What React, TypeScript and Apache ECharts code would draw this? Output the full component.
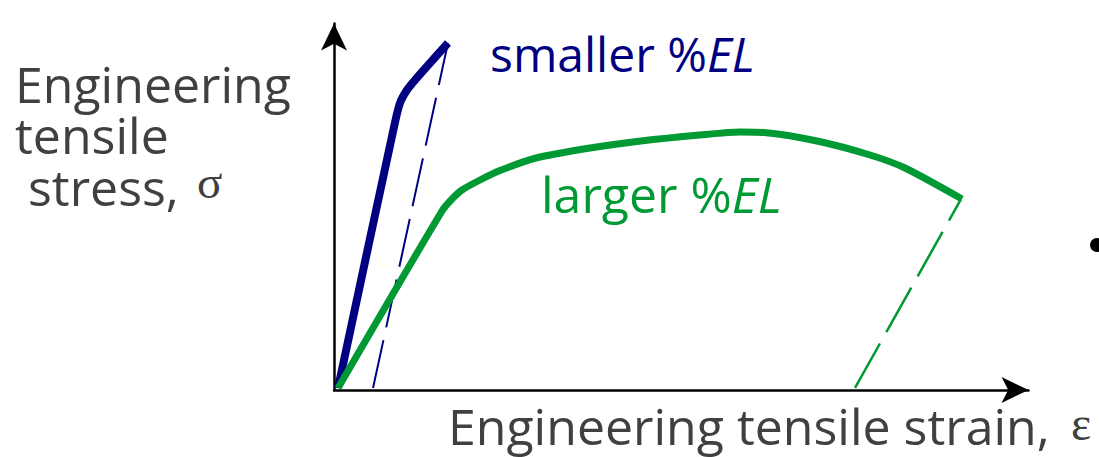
import React, { useEffect, useRef } from "react";
import * as echarts from "echarts";

// Curves in data units (x: strain 0..100, y: stress 0..100)
const smallerElCurve: [number, number][] = [
  [0.58, 0.55], [8.64, 71.76], [9.5, 78.31], [10.51, 81.85], [11.66, 84.58], [16.41, 94.68],
];
const smallerElUnload: [number, number][] = [
  [5.62, 0.55], [16.41, 94.68],
];
const largerElCurve: [number, number][] = [
  [0.58, 0.55], [15.55, 48.84], [16.99, 52.11], [18.43, 54.57], [21.02, 57.3], [23.9, 59.89],
  [29.09, 63.3], [36.86, 66.03], [44.2, 67.94], [52.7, 69.58], [58.46, 70.4], [61.91, 70.26],
  [69.55, 67.94], [77.18, 64.12], [82.22, 60.57], [90.42, 52.11],
];
const largerElUnload: [number, number][] = [
  [75.02, 0.55], [90.28, 52.11],
];

const yLabelLines = ["Engineering", "tensile", " stress,"];
const xLabelText = "Engineering tensile strain,";
const smallerLabel = ["smaller %", "EL"];
const largerLabel = ["larger %", "EL"];

const BLUE = "#000080";
const GREEN = "#009933";
const GRAY = "#404040";
const SANS = "'Open Sans', 'Noto Sans', sans-serif";
const SERIF = "'Liberation Serif', 'DejaVu Serif', serif";

export default function App() {
  const ref = useRef<HTMLDivElement>(null);
  useEffect(() => {
    if (!ref.current) return;
    const chart = echarts.init(ref.current, undefined, { renderer: "svg" });
    const axisCommon = {
      type: "value" as const,
      min: 0,
      max: 100,
      splitLine: { show: false },
      axisTick: { show: false },
      axisLabel: { show: false },
      axisLine: {
        show: true,
        symbol: ["none", "arrow"],
        symbolSize: [19.5, 27],
        lineStyle: { color: "#000", width: 2.5 },
      },
    };
    chart.setOption({
      animation: false,
      grid: { left: 334, top: 23.5, right: 70.5, bottom: 67, containLabel: false },
      xAxis: { ...axisCommon },
      yAxis: { ...axisCommon },
      series: [
        {
          type: "line", data: smallerElCurve, symbol: "none", smooth: 0.3,
          lineStyle: { color: BLUE, width: 8, cap: "butt", join: "round" }, z: 2,
        },
        {
          type: "line", data: smallerElUnload, symbol: "none",
          lineStyle: { color: BLUE, width: 2, type: [49, 13] }, z: 3,
        },
        {
          type: "line", data: largerElUnload, symbol: "none",
          lineStyle: { color: GREEN, width: 2.5, type: [51, 13] }, z: 3,
        },
        {
          type: "line", data: largerElCurve, symbol: "none", smooth: 0.25,
          lineStyle: { color: GREEN, width: 7, cap: "butt", join: "round" }, z: 4,
        },
      ],
      graphic: [
        {
          type: "text",
          x: 15,
          y: 83.6 - 25.75,
          style: {
            text: yLabelLines.join("\n"), font: `50px ${SANS}`, fill: GRAY, align: "left",
            verticalAlign: "top", lineHeight: 51.5,
          },
        },
        {
          type: "text", x: 197, y: 181.5,
          style: { text: "σ", font: `47px ${SERIF}`, fill: GRAY, align: "left", verticalAlign: "middle", lineHeight: 30 },
        },
        {
          type: "text", x: 448, y: 426,
          style: {
            text: xLabelText, font: `50px ${SANS}`, fill: GRAY, align: "left", verticalAlign: "middle",
            lineHeight: 40,
          },
        },
        {
          type: "text", x: 1071, y: 423.5,
          style: { text: "ε", font: `48px ${SERIF}`, fill: GRAY, align: "left", verticalAlign: "middle", lineHeight: 30 },
        },
        {
          type: "text", x: 490, y: 53.5,
          style: {
            text: `{a|${smallerLabel[0]}}{b|${smallerLabel[1]}}`,
            align: "left", verticalAlign: "middle",
            rich: {
              a: { font: `48px ${SANS}`, fill: BLUE, color: BLUE },
              b: { font: `italic 48px ${SANS}`, fill: BLUE, color: BLUE },
            },
          },
        },
        {
          type: "text", x: 541, y: 194,
          style: {
            text: `{a|${largerLabel[0]}}{b|${largerLabel[1]}}`,
            align: "left", verticalAlign: "middle",
            rich: {
              a: { font: `50px ${SANS}`, fill: GREEN, color: GREEN },
              b: { font: `italic 50px ${SANS}`, fill: GREEN, color: GREEN },
            },
          },
        },
        {
          type: "circle", shape: { cx: 1097, cy: 245, r: 7 }, style: { fill: "#000" },
        },
      ],
    });
    return () => chart.dispose();
  }, []);
  return (
    <div
      ref={ref}
      style={{ position: "absolute", left: 0, top: 0, width: 1099, height: 457, background: "#fff" }}
    />
  );
}
